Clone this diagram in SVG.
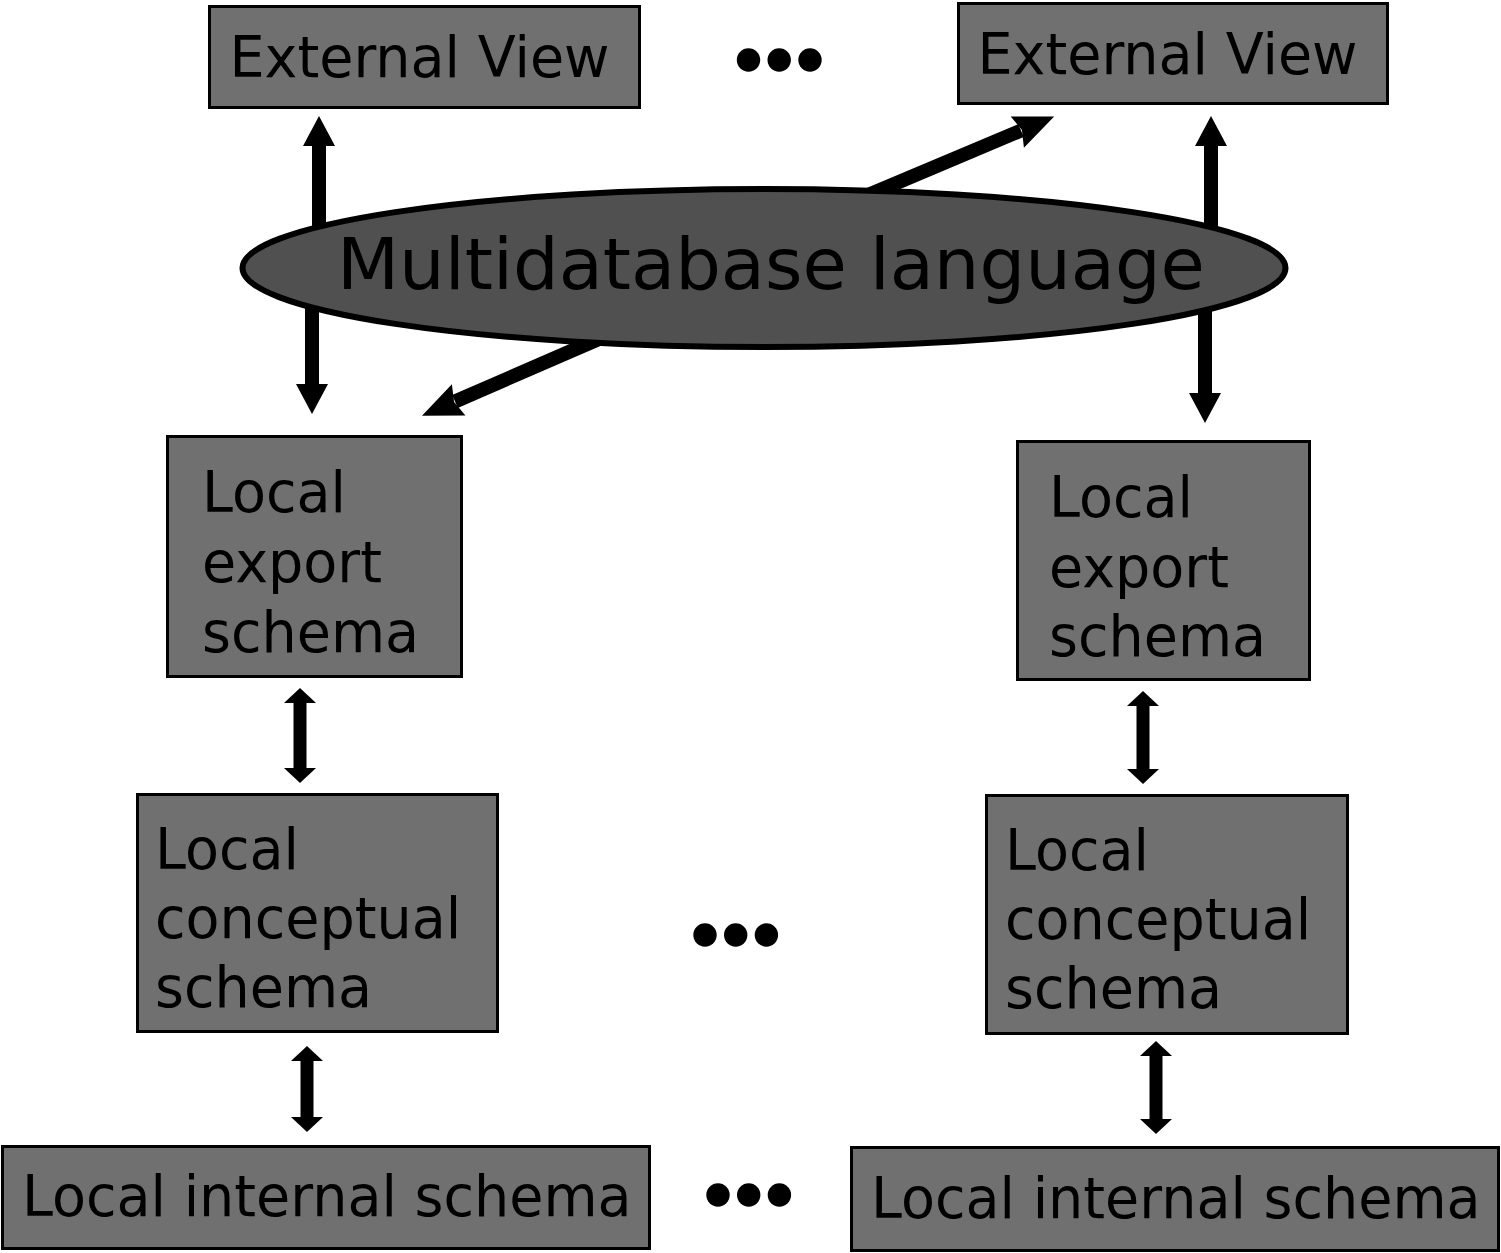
<svg xmlns="http://www.w3.org/2000/svg" width="1501" height="1253" viewBox="0 0 1501 1253">
  <style>
    .box { fill: #707070; stroke: #000; stroke-width: 3; }
    .ell { fill: #505050; stroke: #000; stroke-width: 6; }
    .lbl { font-family: "DejaVu Sans", "Liberation Sans", sans-serif; font-size: 57px; fill: #000; }
    .big { font-family: "DejaVu Sans", "Liberation Sans", sans-serif; font-size: 72px; fill: #000; }
    .shaft { stroke: #000; stroke-width: 14; fill: none; }
    .shaft2 { stroke: #000; stroke-width: 13; fill: none; }
    .dot { fill: #000; }
  </style>
  <defs>
    <marker id="headL" markerUnits="userSpaceOnUse" markerWidth="30" markerHeight="32" refX="1" refY="16" orient="auto" overflow="visible">
      <path d="M0,0 L30,16 L0,32 Z" fill="#000"/>
    </marker>
    <marker id="headD" markerUnits="userSpaceOnUse" markerWidth="40" markerHeight="34" refX="4" refY="17" orient="auto" overflow="visible">
      <path d="M0,0 L40,17 L0,34 L5,17 Z" fill="#000"/>
    </marker>
    <marker id="headS" markerUnits="userSpaceOnUse" markerWidth="15" markerHeight="32" refX="1" refY="16" orient="auto-start-reverse" overflow="visible">
      <path d="M0,0 L15,16 L0,32 Z" fill="#000"/>
    </marker>
  </defs>
  <rect width="1501" height="1253" fill="#fff"/>

  <g id="connectors">
    <line class="shaft" x1="319" y1="250" x2="319" y2="145" marker-end="url(#headL)"/>
    <line class="shaft" x1="312" y1="290" x2="312" y2="385" marker-end="url(#headL)"/>
    <line class="shaft" x1="1211" y1="250" x2="1211" y2="145" marker-end="url(#headL)"/>
    <line class="shaft" x1="1205" y1="290" x2="1205" y2="394" marker-end="url(#headL)"/>
    <line class="shaft" x1="861.6" y1="197.8" x2="1021" y2="130.5" marker-end="url(#headD)"/>
    <line class="shaft" x1="603.4" y1="337" x2="455" y2="401.5" marker-end="url(#headD)"/>
    <line class="shaft2" x1="300" y1="702" x2="300" y2="769" marker-start="url(#headS)" marker-end="url(#headS)"/>
    <line class="shaft2" x1="307" y1="1060" x2="307" y2="1118" marker-start="url(#headS)" marker-end="url(#headS)"/>
    <line class="shaft2" x1="1143" y1="705" x2="1143" y2="770" marker-start="url(#headS)" marker-end="url(#headS)"/>
    <line class="shaft2" x1="1156" y1="1055" x2="1156" y2="1120" marker-start="url(#headS)" marker-end="url(#headS)"/>
  </g>

  <g id="ext-view-1">
    <rect class="box" x="209.5" y="6.5" width="430" height="101"/>
    <text class="lbl" transform="translate(229.5,76.5) scale(0.975,1)">External View</text>
  </g>
  <g id="ext-view-2">
    <rect class="box" x="958.5" y="3.5" width="429" height="100"/>
    <text class="lbl" transform="translate(977.5,73.5) scale(0.975,1)">External View</text>
  </g>
  <g id="dots-top">
    <circle class="dot" cx="748.5" cy="60" r="11.7"/>
    <circle class="dot" cx="779.2" cy="60" r="11.7"/>
    <circle class="dot" cx="810" cy="60" r="11.7"/>
  </g>

  <g id="multidatabase-language">
    <ellipse class="ell" cx="764" cy="268" rx="521.5" ry="79"/>
    <text class="big" x="337" y="289">Multidatabase language</text>
  </g>

  <g id="local-export-1">
    <rect class="box" x="167.5" y="436.5" width="294" height="240"/>
    <text class="lbl" transform="translate(202,512) scale(0.975,1)">Local</text>
    <text class="lbl" transform="translate(202,582) scale(0.975,1)">export</text>
    <text class="lbl" transform="translate(202,652) scale(0.975,1)">schema</text>
  </g>
  <g id="local-export-2">
    <rect class="box" x="1017.5" y="441.5" width="292" height="238"/>
    <text class="lbl" transform="translate(1049,517) scale(0.975,1)">Local</text>
    <text class="lbl" transform="translate(1049,587) scale(0.975,1)">export</text>
    <text class="lbl" transform="translate(1049,656) scale(0.975,1)">schema</text>
  </g>

  <g id="local-conceptual-1">
    <rect class="box" x="137.5" y="794.5" width="360" height="237"/>
    <text class="lbl" transform="translate(155,869) scale(0.975,1)">Local</text>
    <text class="lbl" transform="translate(155,938) scale(0.975,1)">conceptual</text>
    <text class="lbl" transform="translate(155,1007) scale(0.975,1)">schema</text>
  </g>
  <g id="local-conceptual-2">
    <rect class="box" x="986.5" y="795.5" width="361" height="238"/>
    <text class="lbl" transform="translate(1005,870) scale(0.975,1)">Local</text>
    <text class="lbl" transform="translate(1005,939) scale(0.975,1)">conceptual</text>
    <text class="lbl" transform="translate(1005,1008) scale(0.975,1)">schema</text>
  </g>
  <g id="dots-middle">
    <circle class="dot" cx="705" cy="935" r="11.7"/>
    <circle class="dot" cx="735.7" cy="935" r="11.7"/>
    <circle class="dot" cx="766.4" cy="935" r="11.7"/>
  </g>

  <g id="local-internal-1">
    <rect class="box" x="2.5" y="1146.5" width="647" height="102"/>
    <text class="lbl" transform="translate(22,1216) scale(0.975,1)">Local internal schema</text>
  </g>
  <g id="local-internal-2">
    <rect class="box" x="851.5" y="1147.5" width="647" height="103"/>
    <text class="lbl" transform="translate(871,1218) scale(0.975,1)">Local internal schema</text>
  </g>
  <g id="dots-bottom">
    <circle class="dot" cx="718" cy="1195" r="11.7"/>
    <circle class="dot" cx="748.7" cy="1195" r="11.7"/>
    <circle class="dot" cx="779.4" cy="1195" r="11.7"/>
  </g>
</svg>
